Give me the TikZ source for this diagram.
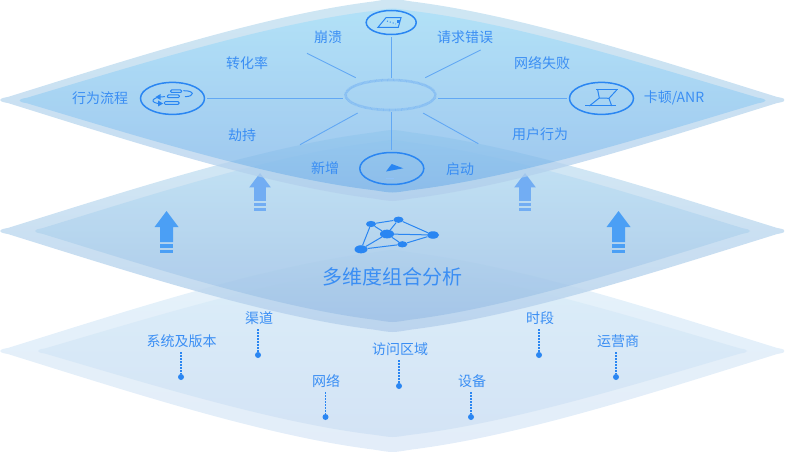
\documentclass[tikz,border=0pt]{standalone}
\usepackage{fontspec}
\setmainfont{Noto Sans CJK SC}
\usetikzlibrary{shapes.geometric,positioning}

\definecolor{inkblue}{HTML}{2A86F2}
\definecolor{textblue}{HTML}{3A8EF4}
\definecolor{spokeblue}{HTML}{62A8F4}
\definecolor{ringblue}{HTML}{85BDF3}
\definecolor{liftdark}{HTML}{4B9FF5}
\definecolor{liftlight}{HTML}{72ADF3}

\tikzset{
	plane/.style n args={3}{shift={(392.5,#1)},xscale=#2,yscale=#3,insert path={
		(-1,0) .. controls (-1,-.012) and (-.995,-.02) .. (-.98,-.03)
		.. controls (-.69,-.38) and (-.33,-.84) .. (-.05,-.975)
		.. controls (-.025,-.99) and (-.012,-1) .. (0,-1)
		.. controls (.012,-1) and (.025,-.99) .. (.05,-.975)
		.. controls (.33,-.84) and (.69,-.38) .. (.98,-.03)
		.. controls (.995,-.02) and (1,-.012) .. (1,0)
		.. controls (1,.012) and (.995,.02) .. (.98,.03)
		.. controls (.69,.38) and (.33,.84) .. (.05,.975)
		.. controls (.025,.99) and (.012,1) .. (0,1)
		.. controls (-.012,1) and (-.025,.99) .. (-.05,.975)
		.. controls (-.33,.84) and (-.69,.38) .. (-.98,.03)
		.. controls (-.995,.02) and (-1,.012) .. (-1,0) -- cycle}},
	tag/.style={text=textblue,inner sep=0pt,font=\fontsize{14}{14}\selectfont},
	badge/.style={draw=inkblue,line width=1.5pt,ellipse,inner sep=0pt,minimum width=64pt,minimum height=32pt},
	hubring/.style={draw=ringblue,line width=2.6pt,dash pattern=on .7pt off .5pt,ellipse,inner sep=0pt,minimum width=90pt,minimum height=30pt},
	spoke/.style={draw=spokeblue,line width=.9pt,shorten <=2pt,shorten >=1pt},
	ray/.style={draw=spokeblue,line width=.9pt,shorten <=9pt},
	pin/.style={fill=inkblue,circle,inner sep=0pt,minimum size=6pt},
	stem/.style={draw=inkblue,line width=1.2pt,dash pattern=on 1.5pt off 1.5pt,shorten <=11pt},
	vertex/.style={fill=inkblue,ellipse,inner sep=0pt,minimum width=#1*2pt,minimum height=#1*1.25pt},
	link/.style={draw=inkblue,line width=1pt},
	glyph/.style={draw=inkblue,line width=1pt},
	lift/.pic={
		\fill[pic actions] (0,0) -- (12,16) -- (6.5,16) -- (6.5,31) -- (-6.5,31) -- (-6.5,16) -- (-12,16) -- cycle;
		\fill[pic actions] (-6.5,33) rectangle (6.5,37);
		\fill[pic actions] (-6.5,39) rectangle (6.5,42);
	}
}

\begin{document}
\begin{tikzpicture}[x=1pt,y=-1pt]
	\useasboundingbox (0,0) rectangle (785,452);

	% bottom plane
	\shade [plane={351}{392.5}{101},top color={rgb,255:red,229;green,242;blue,250},bottom color={rgb,255:red,227;green,237;blue,249}];
	\shade [plane={351}{354.5}{86},top color={rgb,255:red,220;green,238;blue,249},bottom color={rgb,255:red,211;green,227;blue,245}];

	% middle plane
	\begin{scope}[transparency group,opacity=.88]
		\shade [plane={231}{392.5}{101},top color={rgb,255:red,207;green,230;blue,243},bottom color={rgb,255:red,184;green,210;blue,237}];
		\shade [plane={231}{357.5}{91},top color={rgb,255:red,188;green,224;blue,243},bottom color={rgb,255:red,159;green,193;blue,230}];
	\end{scope}

	\pic [fill=liftdark] at (166.5,211) {lift};
	\pic [fill=liftdark] at (618.5,211) {lift};
	\pic [fill=liftlight,scale=.9] at (260,173) {lift};
	\pic [fill=liftlight,scale=.9] at (525,173) {lift};

	% top plane
	\begin{scope}[transparency group,opacity=.75]
		\shade [plane={100}{392.5}{101},top color={rgb,255:red,191;green,222;blue,239},bottom color={rgb,255:red,178;green,207;blue,236}];
		\shade [plane={100.5}{373}{92},top color={rgb,255:red,152;green,215;blue,244},bottom color={rgb,255:red,124;green,178;blue,232}];
	\end{scope}

	\node [hubring]	at (390.5,95)	(hub)		{};
	\node [badge,minimum width=50pt,minimum height=24pt] at (391.2,22.5) (crash) {};
	\node [badge]	at (172.5,98.4)	(flow)		{};
	\node [badge]	at (601.5,98.4)	(stall)		{};
	\node [badge]	at (391.8,168.5) (launch)	{};

	\coordinate (ray_a) at (307,53.3);
	\coordinate (ray_b) at (480.7,50);
	\coordinate (ray_c) at (300,144.7);
	\coordinate (ray_d) at (478.3,143.7);

	\path [spoke]	(crash) -- (crash |- hub.north);
	\path [spoke]	(launch) -- (launch |- hub.south);
	\path [spoke]	(flow) -- (flow -| hub.west);
	\path [spoke]	(stall) -- (stall -| hub.east);
	\path [ray]		(hub) -- (ray_a);
	\path [ray]		(hub) -- (ray_b);
	\path [ray]		(hub) -- (ray_c);
	\path [ray]		(hub) -- (ray_d);

	\node [tag] at (328,37)		(t_crash)	{崩溃};
	\node [tag] at (465,37)		(t_error)	{请求错误};
	\node [tag] at (247,63)		(t_conv)	{转化率};
	\node [tag] at (542,63)		(t_net)		{网络失败};
	\node [tag] at (100,98)		(t_flow)	{行为流程};
	\node [tag] at (674,98)		(t_stall)	{卡顿/ANR};
	\node [tag] at (242,135)	(t_hijack)	{劫持};
	\node [tag] at (540,134)	(t_user)	{用户行为};
	\node [tag] at (325,168)	(t_new)		{新增};
	\node [tag] at (460,169)	(t_start)	{启动};

	% badge glyphs
	\draw [glyph] (378,27.3) -- (398.3,27.3) -- (401,17.7) -- (386,17.7) -- cycle;
	\draw [glyph,dotted] (387,21) -- (396,24);
	\fill [inkblue] (396.5,20.5) rectangle (400,23);

	\draw [glyph,rounded corners=1pt] (170.7,90) rectangle (181.7,92.5);
	\draw [glyph,rounded corners=1pt] (167.3,95) rectangle (179.3,97.7);
	\draw [glyph,rounded corners=1pt] (164.3,101.7) rectangle (179,104.3);
	\draw [glyph] (183.3,90.7) .. controls (195,90.5) and (195,96.5) .. (185,96.7);
	\draw [glyph] (165,96.7) .. controls (150,96.7) and (150,103.5) .. (160,103.5);
	\fill [inkblue] (155.5,97) -- (160.5,94) -- (160.5,100) -- cycle;
	\fill [inkblue] (163,103.5) -- (158,100.5) -- (158,106.5) -- cycle;

	\draw [glyph] (596,90) -- (618,90);
	\draw [glyph] (585,106) -- (616,106);
	\draw [glyph] (597.7,90) -- (599.3,98) -- (589.3,106);
	\draw [glyph] (616.7,90) -- (609,98.3) -- (611.7,106);
	\draw [glyph] (599.3,98) -- (609,98.3);

	\fill [inkblue] (386,171.5) -- (391.7,164) -- (403.3,168.3) -- cycle;
	\draw [spokeblue!70,line width=.7pt] (386,178) -- (394,178);

	% network
	\node [vertex=7]	at (387,234)	(v_hub)		{};
	\node [vertex=5]	at (371,224)	(v_a)		{};
	\node [vertex=5]	at (398.5,219.7) (v_b)		{};
	\node [vertex=6]	at (433,235)	(v_c)		{};
	\node [vertex=5]	at (402.3,244.3) (v_d)		{};
	\node [vertex=6.5]	at (361,249.3)	(v_e)		{};
	\path [link]	(v_a) -- (v_b) -- (v_c) -- (v_d) -- (v_e) -- (v_a)
					(v_hub) -- (v_a) (v_hub) -- (v_b) (v_hub) -- (v_c) (v_hub) -- (v_d) (v_hub) -- (v_e);

	\node [tag,font=\fontsize{20}{20}\selectfont] at (392,277) (t_title) {多维度组合分析};

	% dimensions
	\node [tag] at (181.5,341)	(d_sys)		{系统及版本};
	\node [tag] at (259,318)	(d_chan)	{渠道};
	\node [tag] at (326,381)	(d_net)		{网络};
	\node [tag] at (400,349)	(d_area)	{访问区域};
	\node [tag] at (472,381)	(d_dev)		{设备};
	\node [tag] at (540,318)	(d_time)	{时段};
	\node [tag] at (618,341)	(d_isp)		{运营商};

	\node [pin] at (181,377)	(p_sys)		{};
	\node [pin] at (258,355)	(p_chan)	{};
	\node [pin] at (325.5,417)	(p_net)		{};
	\node [pin] at (399,386)	(p_area)	{};
	\node [pin] at (471,417)	(p_dev)		{};
	\node [pin] at (539,355)	(p_time)	{};
	\node [pin] at (616,377)	(p_isp)		{};

	\path [stem]	(d_sys -| p_sys) -- (p_sys);
	\path [stem]	(d_chan -| p_chan) -- (p_chan);
	\path [stem]	(d_net -| p_net) -- (p_net);
	\path [stem]	(d_area -| p_area) -- (p_area);
	\path [stem]	(d_dev -| p_dev) -- (p_dev);
	\path [stem]	(d_time -| p_time) -- (p_time);
	\path [stem]	(d_isp -| p_isp) -- (p_isp);
\end{tikzpicture}
\end{document}
